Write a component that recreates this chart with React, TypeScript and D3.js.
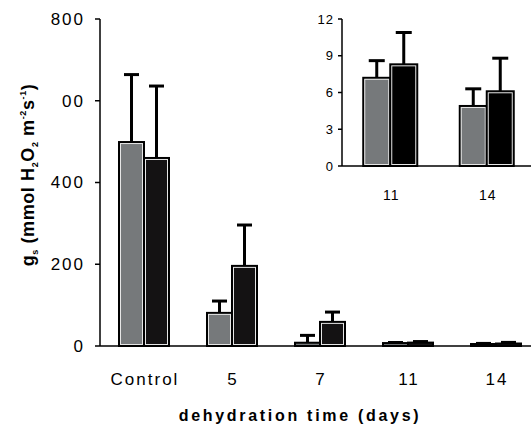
import * as d3 from "d3";
import React from "react";

// dehydration series: grey = first genotype, black = second
const categories = ["Control", "5", "7", "11", "14"];
const greyMean = [499, 81, 8, 7.2, 4.9];
const greyErr = [664, 110, 26, 8.6, 6.3];
const blackMean = [460, 196, 59, 8.3, 6.1];
const blackErr = [636, 296, 83, 10.9, 8.8];
const yTicks = [0, 200, 400, 600, 800];
const yTickLabels = ["0", "200", "400", "00", "800"];

// inset: late days only
const insetCats = ["11", "14"];
const insetGrey = [7.2, 4.9];
const insetGreyErr = [8.6, 6.3];
const insetBlack = [8.3, 6.1];
const insetBlackErr = [10.9, 8.8];
const insetTicks = [0, 3, 6, 9, 12];

const GREY = "#76797b";
const BLACK = "#141213";
const FONT = "Arial, 'Liberation Sans', sans-serif";

const Bar = ({ x, w, y0, y1, fill }) => {
  const h = Math.max(y0 - y1, 0);
  return (
    <g>
      <rect x={x} y={y1} width={w} height={h} fill={fill} stroke="#000" strokeWidth={2} />
      {h > 4 && (
        <rect x={x + 1.5} y={y1 + 1.5} width={w - 3} height={h - 3} fill="none" stroke="#e6e6e6" strokeWidth={1} />
      )}
    </g>
  );
};

const ErrBar = ({ cx, yTop, yEnd, cap }) => (
  <g stroke="#000" strokeWidth={3}>
    <line x1={cx} x2={cx} y1={yTop} y2={yEnd} />
    <line x1={cx - cap / 2} x2={cx + cap / 2} y1={yEnd} y2={yEnd} />
  </g>
);

const App = () => {
  const x = d3.scaleBand().domain(categories).range([100, 540]);
  const y = d3.scaleLinear().domain([0, 800]).range([346, 19]);
  const bw = 25;

  const xi = d3.scaleBand().domain(insetCats).range([342, 535]);
  const yi = d3.scaleLinear().domain([0, 12]).range([166, 19]);
  const bwi = 27;

  return (
    <svg width={531} height={432} style={{ position: "absolute", left: 0, top: 0, background: "#fff" }} fontFamily={FONT}>
      {/* main bars */}
      {categories.map((c, i) => {
        const cx = x(c) + x.bandwidth() / 2;
        return (
          <g key={c}>
            <ErrBar cx={cx - bw / 2} yTop={y(greyMean[i])} yEnd={y(greyErr[i])} cap={15} />
            <ErrBar cx={cx + bw / 2} yTop={y(blackMean[i])} yEnd={y(blackErr[i])} cap={15} />
            <Bar x={cx - bw} w={bw} y0={y(0)} y1={y(greyMean[i])} fill={GREY} />
            <Bar x={cx} w={bw} y0={y(0)} y1={y(blackMean[i])} fill={BLACK} />
            <text x={cx + 1} y={385} textAnchor="middle" fontSize={17} letterSpacing={2} fill="#000">{c}</text>
          </g>
        );
      })}
      {/* main axes */}
      <line x1={100} x2={100} y1={y(800)} y2={y(0)} stroke="#000" strokeWidth={1.5} />
      <line x1={100} x2={531} y1={y(0)} y2={y(0)} stroke="#000" strokeWidth={1.5} />
      {yTicks.map((t, i) => (
        <g key={t}>
          <line x1={95} x2={100} y1={y(t)} y2={y(t)} stroke="#000" strokeWidth={1.5} />
          <text x={85} y={y(t)} dy="0.35em" textAnchor="end" fontSize={17} letterSpacing={2} fill="#000">{yTickLabels[i]}</text>
        </g>
      ))}
      <text x={300} y={421} textAnchor="middle" fontSize={16} fontWeight="bold" letterSpacing={2.7} fill="#000">
        dehydration time (days)
      </text>
      <text transform="translate(34,175) rotate(-90)" textAnchor="middle" fontSize={18} fontWeight="bold" letterSpacing={0.6} fill="#000">
        g<tspan fontSize={9} dy={4}>s</tspan>
        <tspan dy={-4}> (mmol H</tspan>
        <tspan fontSize={9} dy={4}>2</tspan>
        <tspan dy={-4}>O</tspan>
        <tspan fontSize={9} dy={4}>2</tspan>
        <tspan dy={-4}> m</tspan>
        <tspan fontSize={9} dy={-8}>-2</tspan>
        <tspan dy={8}>s</tspan>
        <tspan fontSize={9} dy={-8}>-1</tspan>
        <tspan dy={8}>)</tspan>
      </text>

      {/* inset */}
      {insetCats.map((c, i) => {
        const cx = xi(c) + xi.bandwidth() / 2;
        return (
          <g key={c}>
            <ErrBar cx={cx - bwi / 2} yTop={yi(insetGrey[i])} yEnd={yi(insetGreyErr[i])} cap={16} />
            <ErrBar cx={cx + bwi / 2} yTop={yi(insetBlack[i])} yEnd={yi(insetBlackErr[i])} cap={16} />
            <Bar x={cx - bwi} w={bwi} y0={yi(0)} y1={yi(insetGrey[i])} fill={GREY} />
            <Bar x={cx} w={bwi} y0={yi(0)} y1={yi(insetBlack[i])} fill="#000" />
            <text x={cx + 1} y={200} textAnchor="middle" fontSize={14} letterSpacing={1} fill="#000">{c}</text>
          </g>
        );
      })}
      <line x1={342} x2={342} y1={yi(12)} y2={yi(0)} stroke="#000" strokeWidth={1.5} />
      <line x1={342} x2={531} y1={yi(0)} y2={yi(0)} stroke="#000" strokeWidth={1.5} />
      {insetTicks.map((t) => (
        <g key={t}>
          <line x1={338} x2={342} y1={yi(t)} y2={yi(t)} stroke="#000" strokeWidth={1.5} />
          <text x={334} y={yi(t)} dy="0.35em" textAnchor="end" fontSize={13} letterSpacing={1} fill="#000">{t}</text>
        </g>
      ))}
    </svg>
  );
};

export default App;
